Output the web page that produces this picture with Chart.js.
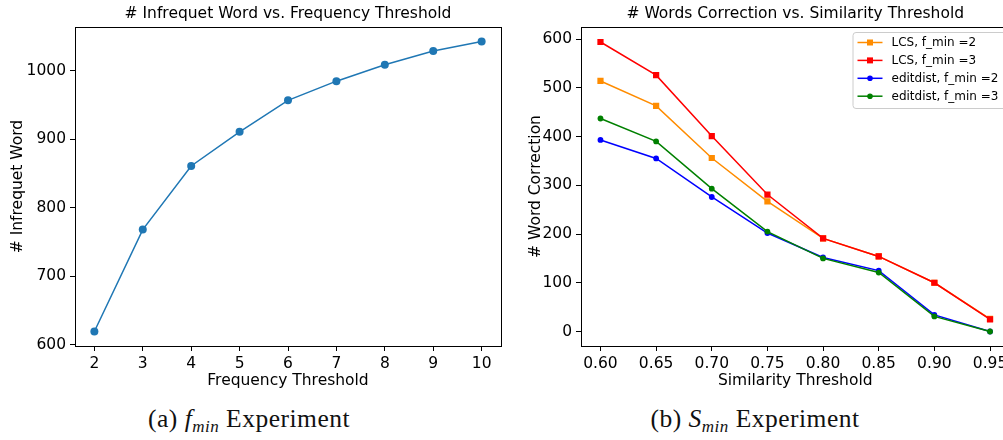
<!DOCTYPE html>
<html>
<head>
<meta charset="utf-8">
<script src="https://cdn.jsdelivr.net/npm/chart.js@4.4.1/dist/chart.umd.min.js"></script>
<style>
  html, body { margin: 0; padding: 0; background: #fff; }
  #page { position: relative; width: 1003px; height: 440px; overflow: hidden; background: #fff; }
  .box { position: absolute; top: 0; }
  .caption { position: absolute; top: 404px; font-family: "Liberation Serif", "DejaVu Serif", serif; font-size: 25.5px; letter-spacing: 0.5px; color: #111; white-space: nowrap; transform: translateX(-50%); }
  .caption i { font-style: italic; }
  .caption sub { font-size: 17px; vertical-align: -5px; line-height: 0; }
</style>
</head>
<body>
<div id="page">
  <div class="box" style="left:0px;width:505px;height:392px;"><canvas id="leftChart" width="505" height="392"></canvas></div>
  <div class="box" style="left:505px;width:520px;height:392px;"><canvas id="rightChart" width="520" height="392"></canvas></div>
  <div class="caption" style="left:249px;">(a) <i>f</i><sub><i>min</i></sub> Experiment</div>
  <div class="caption" style="left:755px;">(b) <i>S</i><sub><i>min</i></sub> Experiment</div>
</div>
<script>
// left panel: infrequent words vs frequency threshold
const freqThreshold = [2, 3, 4, 5, 6, 7, 8, 9, 10];
const infrequentWords = [619, 768, 861, 911, 957, 985, 1009, 1029, 1043];
const leftYTicks = [600, 700, 800, 900, 1000];

// right panel: word corrections vs similarity threshold
const simThreshold = [0.60, 0.65, 0.70, 0.75, 0.80, 0.85, 0.90, 0.95];
const lcsF2 = [514, 463, 356, 267, 191, 154, 100, 26];
const lcsF3 = [594, 526, 401, 281, 191, 154, 100, 25];
const editF2 = [393, 355, 276, 202, 152, 125, 34, 0];
const editF3 = [437, 390, 293, 205, 150, 121, 31, 0];
const rightYTicks = [0, 100, 200, 300, 400, 500, 600];
const seriesNames = ["LCS, f_min =2", "LCS, f_min =3", "editdist, f_min =2", "editdist, f_min =3"];

const FONT = "'DejaVu Sans', sans-serif";
const TXT = 15.5;

function toPoints(xs, ys) {
    return xs.map((x, i) => ({ x: x, y: ys[i] }));
}

// frame + centered title over the plot area
const framePlugin = {
    id: "frame",
    afterDraw(chart, args, opts) {
        const a = chart.chartArea;
        const ctx = chart.ctx;
        ctx.save();
        ctx.strokeStyle = "#000";
        ctx.lineWidth = 1;
        ctx.strokeRect(Math.round(a.left) + 0.5, Math.round(a.top) + 0.5,
            Math.round(a.right - a.left), Math.round(a.bottom - a.top));
        ctx.fillStyle = "#000";
        ctx.font = TXT + "px " + FONT;
        ctx.textAlign = "center";
        ctx.textBaseline = "middle";
        ctx.fillText(opts.text, (a.left + a.right) / 2, 14);
        ctx.restore();
    }
};

// matplotlib-like legend drawn inside the plot, upper right
const innerLegend = {
    id: "innerLegend",
    afterDraw(chart, args, opts) {
        if (!opts.show) return;
        const a = chart.chartArea;
        const ctx = chart.ctx;
        const x0 = a.right - 157, y0 = a.top + 5, w = 160, h = 76;
        ctx.save();
        ctx.fillStyle = "rgba(255,255,255,0.8)";
        ctx.strokeStyle = "#cccccc";
        ctx.lineWidth = 1;
        ctx.beginPath();
        ctx.roundRect(x0 + 0.5, y0 + 0.5, w, h, 3);
        ctx.fill();
        ctx.stroke();
        ctx.font = "12px " + FONT;
        ctx.textBaseline = "middle";
        ctx.textAlign = "left";
        chart.data.datasets.forEach((ds, i) => {
            const y = y0 + 10.5 + i * 17.9;
            ctx.strokeStyle = ds.borderColor;
            ctx.lineWidth = 1.5;
            ctx.beginPath();
            ctx.moveTo(x0 + 5, y);
            ctx.lineTo(x0 + 30, y);
            ctx.stroke();
            ctx.fillStyle = ds.borderColor;
            if (ds.pointStyle === "rect") {
                ctx.fillRect(x0 + 17.5 - 3, y - 3, 6, 6);
            } else {
                ctx.beginPath();
                ctx.arc(x0 + 17.5, y, 2.8, 0, Math.PI * 2);
                ctx.fill();
            }
            ctx.fillStyle = "#000";
            ctx.fillText(ds.label, x0 + 39, y + 0.5);
        });
        ctx.restore();
    }
};

function axisOptions(min, max, tickValues, fmt, fitSize, title, titlePad, horizontal) {
    return {
        type: "linear",
        min: min,
        max: max,
        afterBuildTicks: scale => { scale.ticks = tickValues.map(v => ({ value: v })); },
        afterFit: scale => { if (horizontal) scale.height = fitSize; else scale.width = fitSize; },
        grid: { drawOnChartArea: false, drawTicks: true, tickLength: 5, tickColor: "#000", tickWidth: 1 },
        border: { display: false },
        ticks: {
            color: "#000",
            font: { family: FONT, size: TXT },
            padding: horizontal ? 4 : 4,
            autoSkip: false,
            maxRotation: 0,
            callback: v => fmt(v)
        },
        title: {
            display: true,
            text: title,
            color: "#000",
            font: { family: FONT, size: TXT },
            padding: titlePad
        }
    };
}

const leftCtx = document.getElementById("leftChart").getContext("2d");
new Chart(leftCtx, {
    type: "line",
    data: {
        datasets: [{
            label: "# Infrequet Word",
            data: toPoints(freqThreshold, infrequentWords),
            borderColor: "#1f77b4",
            backgroundColor: "#1f77b4",
            borderWidth: 1.5,
            pointRadius: 4,
            pointBorderWidth: 0,
            pointHoverRadius: 4,
            tension: 0,
            fill: false
        }]
    },
    options: {
        responsive: false,
        animation: false,
        events: [],
        layout: { padding: { top: 27, right: 2, left: 0, bottom: 0 } },
        plugins: {
            legend: { display: false },
            tooltip: { enabled: false },
            frame: { text: "# Infrequet Word vs. Frequency Threshold" },
            innerLegend: { show: false }
        },
        scales: {
            x: axisOptions(1.6, 10.4, freqThreshold, v => String(v), 46, "Frequency Threshold", { top: 2, bottom: 2 }, true),
            y: axisOptions(597.8, 1064.2, leftYTicks, v => String(v), 75, "# Infrequet Word", { top: 9, bottom: 4 }, false)
        }
    },
    plugins: [framePlugin, innerLegend]
});

const seriesColors = ["#ff8c00", "#ff0000", "#0000ff", "#008000"];
const seriesValues = [lcsF2, lcsF3, editF2, editF3];
const seriesMarkers = ["rect", "rect", "circle", "circle"];

const rightCtx = document.getElementById("rightChart").getContext("2d");
new Chart(rightCtx, {
    type: "line",
    data: {
        datasets: seriesValues.map((vals, i) => ({
            label: seriesNames[i],
            data: toPoints(simThreshold, vals),
            borderColor: seriesColors[i],
            backgroundColor: seriesColors[i],
            borderWidth: 1.5,
            pointStyle: seriesMarkers[i],
            pointRadius: seriesMarkers[i] === "rect" ? 4.4 : 2.9,
            pointBorderWidth: 0,
            pointHoverRadius: 4,
            tension: 0,
            fill: false,
            order: 4 - i
        }))
    },
    options: {
        responsive: false,
        animation: false,
        events: [],
        layout: { padding: { top: 27, right: 15.5, left: 0, bottom: 0 } },
        plugins: {
            legend: { display: false },
            tooltip: { enabled: false },
            frame: { text: "# Words Correction vs. Similarity Threshold" },
            innerLegend: { show: true }
        },
        scales: {
            x: axisOptions(0.5825, 0.9675, simThreshold, v => v.toFixed(2), 46, "Similarity Threshold", { top: 2, bottom: 2 }, true),
            y: axisOptions(-29.75, 624.75, rightYTicks, v => String(v), 76, "# Word Correction", { top: 22, bottom: 4 }, false)
        }
    },
    plugins: [framePlugin, innerLegend]
});
</script>
</body>
</html>
